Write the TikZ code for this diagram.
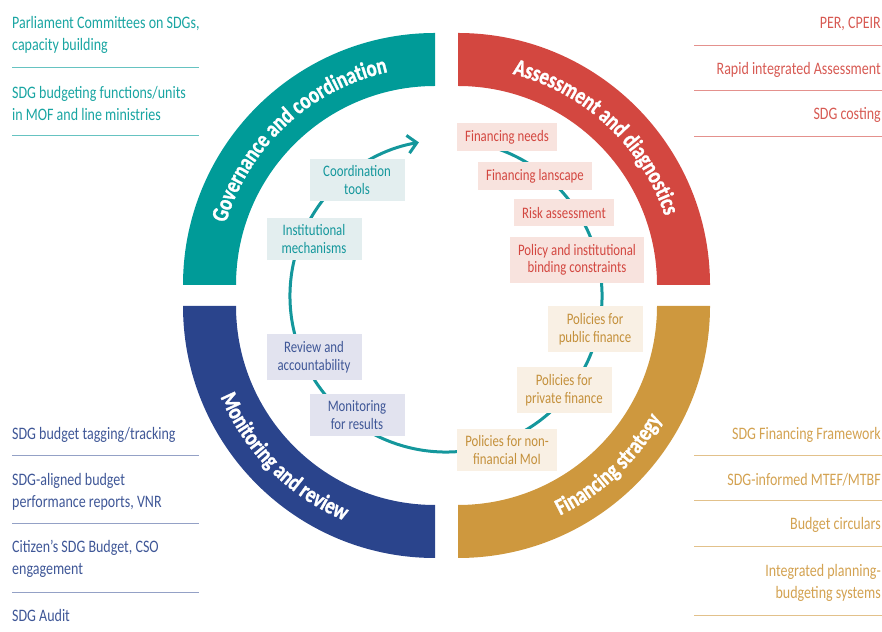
\documentclass[tikz,border=0pt]{standalone}
\usepackage{fontspec}
\setmainfont{Carlito}[FakeStretch=0.8]
\newfontfamily\ringfamily{Carlito}[FakeStretch=0.8,BoldFeatures={FakeBold=1.2}]
\usetikzlibrary{decorations.text,arrows.meta}

\definecolor{govteal}{RGB}{0,155,152}
\definecolor{assred}{RGB}{211,71,64}
\definecolor{monblue}{RGB}{42,68,140}
\definecolor{fingold}{RGB}{206,152,62}
\definecolor{cycleteal}{RGB}{20,151,156}

\tikzstyle{listitem} = [inner sep=0pt, font=\fontsize{17.5}{22}\selectfont]
\tikzstyle{rule} = [line width=1pt]
\newcommand{\ringfont}{\ringfamily\fontsize{23.5}{23.5}\selectfont\bfseries}

\begin{document}
\begin{tikzpicture}
		[x=1pt,y=1pt,
		box/.style={
		rectangle,
		minimum width=95pt,
		minimum height=27pt,
		inner xsep=8pt,
		inner ysep=7pt,
		align=center,
		font=\fontsize{16}{17.5}\selectfont},
		govbox/.style={box,fill={rgb,255:red,227;green,238;blue,239},text=cycleteal},
		assbox/.style={box,fill={rgb,255:red,248;green,227;blue,222},text=assred},
		finbox/.style={box,fill={rgb,255:red,249;green,240;blue,228},text=fingold!95!black},
		monbox/.style={box,fill={rgb,255:red,226;green,227;blue,239},text=monblue!90},
		ringtext/.style={decorate,decoration={text along path,text align=center,text color=white,text={|\ringfont|#1}}}
		]
		\useasboundingbox (0,0) rectangle (882,631);

		% four quarter rings
		\fill[govteal,shift={(435,346)}] (180:252) arc[start angle=180,end angle=90,radius=252]
			-- (90:199) arc[start angle=90,end angle=180,radius=199] -- cycle;
		\fill[assred,shift={(458,346)}] (90:252) arc[start angle=90,end angle=0,radius=252]
			-- (0:199) arc[start angle=0,end angle=90,radius=199] -- cycle;
		\fill[monblue,shift={(435,325)}] (180:252) arc[start angle=180,end angle=270,radius=252]
			-- (270:199) arc[start angle=270,end angle=180,radius=199] -- cycle;
		\fill[fingold,shift={(458,325)}] (270:252) arc[start angle=270,end angle=360,radius=252]
			-- (0:199) arc[start angle=0,end angle=-90,radius=199] -- cycle;

		\path[ringtext=Governance and coordination,shift={(435,346)}] (172:218) arc[start angle=172,end angle=94,radius=218];
		\path[ringtext=Assessment and diagnostics,shift={(458,346)}] (86:218) arc[start angle=86,end angle=8,radius=218];
		\path[ringtext=Monitoring and review,shift={(435,325)}] (188:233) arc[start angle=188,end angle=262,radius=233];
		\path[ringtext=Financing strategy,shift={(458,325)}] (-82:233) arc[start angle=-82,end angle=-11,radius=233];

		% cycle arrow
		\coordinate (cycle_center) at (446,335);
		\draw[cycleteal,line width=3pt,-{Straight Barb[length=9pt,width=18pt,line width=3pt]}]
			(cycle_center) ++(70:156) arc[start angle=70,end angle=-260,radius=156];

		% steps on the cycle
		\node[govbox](coord_tools) at (357,451) {Coordination\\tools};
		\node[govbox](inst_mech) at (314,392) {Institutional\\mechanisms};
		\node[assbox](fin_needs) at (507,494) {Financing needs};
		\node[assbox](fin_landscape) at (535,455) {Financing lanscape};
		\node[assbox](risk) at (564,418) {Risk assessment};
		\node[assbox](binding) at (577,371) {Policy and institutional\\binding constraints};
		\node[finbox](public_fin) at (595,302) {Policies for\\public finance};
		\node[finbox](private_fin) at (564,241) {Policies for\\private finance};
		\node[finbox](non_fin) at (507,181) {Policies for non-\\financial MoI};
		\node[monbox](review) at (314,274) {Review and\\accountability};
		\node[monbox](monitoring) at (357,216) {Monitoring\\for results};

		% instruments, top left
		\node[listitem,anchor=west,align=left,text=govteal!90!white](parliament) at (12,596) {Parliament Committees on SDGs,\\capacity building};
		\node[listitem,anchor=west,align=left,text=govteal!90!white](budget_units) at (12,528) {SDG budgeting functions/units\\in MOF and line ministries};
		\foreach \y in {563,495}
			\draw[rule,govteal!60!white] (12,\y) -- (199,\y);

		% instruments, top right
		\node[listitem,anchor=east,align=right,text=assred!90!white](per) at (881,607) {PER, CPEIR};
		\node[listitem,anchor=east,align=right,text=assred!90!white](rapid) at (881,561) {Rapid integrated Assessment};
		\node[listitem,anchor=east,align=right,text=assred!90!white](costing) at (881,516) {SDG costing};
		\foreach \y in {585,540,494}
			\draw[rule,assred!60!white] (694,\y) -- (882,\y);

		% instruments, bottom left
		\node[listitem,anchor=west,align=left,text=monblue!90!white](tagging) at (12,196) {SDG budget tagging/tracking};
		\node[listitem,anchor=west,align=left,text=monblue!90!white](reports) at (12,139) {SDG-aligned budget\\performance reports, VNR};
		\node[listitem,anchor=west,align=left,text=monblue!90!white](citizen) at (12,72.5) {Citizen’s SDG Budget, CSO\\engagement};
		\node[listitem,anchor=west,align=left,text=monblue!90!white](audit) at (12,16) {SDG Audit};
		\foreach \y in {175,107,39}
			\draw[rule,monblue!50!white] (12,\y) -- (199,\y);

		% instruments, bottom right
		\node[listitem,anchor=east,align=right,text=fingold!90!white](framework) at (881,196) {SDG Financing Framework};
		\node[listitem,anchor=east,align=right,text=fingold!90!white](mtef) at (881,151) {SDG-informed MTEF/MTBF};
		\node[listitem,anchor=east,align=right,text=fingold!90!white](circulars) at (881,106) {Budget circulars};
		\node[listitem,anchor=east,align=right,text=fingold!90!white](planning) at (881,48.5) {Integrated planning-\\budgeting systems};
		\foreach \y in {175,130,84,16}
			\draw[rule,fingold!60!white] (694,\y) -- (882,\y);
		\end{tikzpicture}
\end{document}
